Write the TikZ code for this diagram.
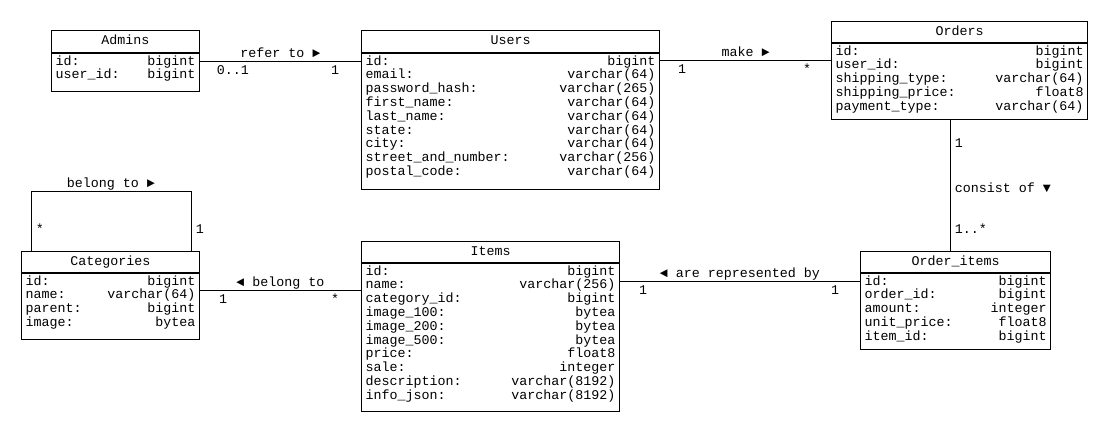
\documentclass[tikz,border=0pt]{standalone}
\usepackage{fontspec}
\setmainfont{Liberation Mono}
\usetikzlibrary{positioning}

\newdimen\pxu \pxu=0.75pt
% fields of a table: box width (px), body height (px), rows
\newcommand{\fieldlist}[3]{%
  \parbox[c][#2\pxu][t]{\dimexpr#1\pxu-6pt\relax}{\vspace*{1.5pt}%
    \begin{tabular*}{\linewidth}{@{}l@{\extracolsep{\fill}}r@{}}#3\end{tabular*}}}

\tikzset{
  tabhead/.style={draw, anchor=north west, inner sep=0pt, minimum width=#1*\pxu,
    minimum height=21*\pxu, text height=7pt, text depth=2pt},
  tabbody/.style={draw, inner xsep=3pt, inner ysep=0pt},
  rel/.style={above, inner sep=1.2pt, text height=1.5ex, text depth=.25ex},
  mult/.style={below, inner sep=1.5pt, text height=1.5ex, text depth=.25ex},
  side/.style={right, text height=1.5ex, text depth=.25ex},
}

\begin{document}
\begin{tikzpicture}[x=0.75pt, y=-0.75pt, line width=0.75pt,
    font=\fontsize{10}{10.35}\selectfont]

    \useasboundingbox (0,0) rectangle (1110,430);

    % Tables
    \node[tabhead=148, minimum height=22*\pxu] (admh) at (51,30) {Admins};
    \node[tabbody, below=0pt of admh] (admins) {\fieldlist{148}{38}{%
        id: & bigint\\ user\_id: & bigint}};

    \node[tabhead=298, minimum height=22*\pxu] (usrh) at (361,30) {Users};
    \node[tabbody, below=0pt of usrh] (users) {\fieldlist{298}{136}{%
        id: & bigint\\
        email: & varchar(64)\\
        password\_hash: & varchar(265)\\
        first\_name: & varchar(64)\\
        last\_name: & varchar(64)\\
        state: & varchar(64)\\
        city: & varchar(64)\\
        street\_and\_number: & varchar(256)\\
        postal\_code: & varchar(64)}};

    \node[tabhead=256] (ordh) at (831,21) {Orders};
    \node[tabbody, below=0pt of ordh] (orders) {\fieldlist{256}{76}{%
        id: & bigint\\
        user\_id: & bigint\\
        shipping\_type: & varchar(64)\\
        shipping\_price: & float8\\
        payment\_type: & varchar(64)}};

    \node[tabhead=178] (cath) at (21,251) {Categories};
    \node[tabbody, below=0pt of cath] (categories) {\fieldlist{178}{66}{%
        id: & bigint\\
        name: & varchar(64)\\
        parent: & bigint\\
        image: & bytea}};

    \node[tabhead=258] (itmh) at (361,241) {Items};
    \node[tabbody, below=0pt of itmh] (items) {\fieldlist{258}{148}{%
        id: & bigint\\
        name: & varchar(256)\\
        category\_id: & bigint\\
        image\_100: & bytea\\
        image\_200: & bytea\\
        image\_500: & bytea\\
        price: & float8\\
        sale: & integer\\
        description: & varchar(8192)\\
        info\_json: & varchar(8192)}};

    \node[tabhead=190] (oith) at (860,251) {Order\_items};
    \node[tabbody, below=0pt of oith] (orderitems) {\fieldlist{190}{76}{%
        id: & bigint\\
        order\_id: & bigint\\
        amount: & integer\\
        unit\_price: & float8\\
        item\_id: & bigint}};

    % Admins -- Users
    \draw (admins.east |- 0,61) -- node[rel] (referto) {refer to ►} (users.west |- 0,61);
    \node[mult] (admmult) at (233,61) {0..1};
    \node[mult] (usradmmult) at (335,61) {1};

    % Users -- Orders
    \draw (users.east |- 0,60) -- node[rel] (make) {make ►} (orders.west |- 0,60);
    \node[mult] (usrordmult) at (682,60) {1};
    \node[mult] (ordmult) at (807,60) {*};

    % Orders -- Order_items
    \draw (orders.south -| 950,0) -- (oith.north -| 950,0);
    \node[side] (ordoimult) at (950,143) {1};
    \node[side] (consistof) at (950,188) {consist of ▼};
    \node[side] (oimult) at (950,229) {1..*};

    % Categories -- Categories (parent)
    \draw (cath.north -| 31,0) -- (31,191) -- node[rel] (catparent) {belong to ►} (191,191)
        -- (cath.north -| 191,0);
    \node[side] (childmult) at (31,229) {*};
    \node[side] (parentmult) at (191,229) {1};

    % Items -- Categories
    \draw (categories.east |- 0,290) -- node[rel] (belongto) {◄ belong to} (items.west |- 0,290);
    \node[mult] (catmult) at (223,290) {1};
    \node[mult] (itmcatmult) at (335,290) {*};

    % Order_items -- Items
    \draw (items.east |- 0,281) -- node[rel] (represented) {◄ are represented by} (orderitems.west |- 0,281);
    \node[mult] (itmmult) at (643,281) {1};
    \node[mult] (oiitmmult) at (835,281) {1};

\end{tikzpicture}
\end{document}
